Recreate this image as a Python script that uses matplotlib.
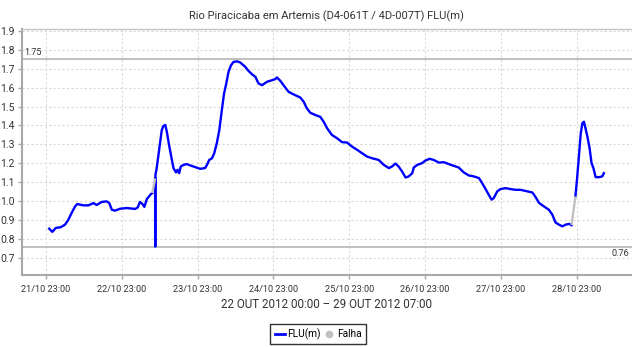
import numpy as np
import pandas as pd
import matplotlib
matplotlib.use('Agg')
import matplotlib.pyplot as plt
import matplotlib.dates as mdates
from matplotlib.lines import Line2D

# leituras FLU(m), horas a partir de 22/10/2012 00:00, em tres trechos separados por falhas
h1 = [0.1, 1.1, 2.2, 3.7, 5.1, 6.1, 7.2, 8.3, 9.0, 10.9, 12.5, 14.1, 15.1, 16.7, 18.3,
      19.1, 19.9, 20.9, 22.5, 24.6, 27.3, 28.1, 28.8, 29.6, 30.2, 31.0, 32.3, 32.7]
v1 = [0.855, 0.838, 0.859, 0.862, 0.876, 0.900, 0.938, 0.973, 0.985, 0.978, 0.978, 0.990,
      0.980, 0.996, 0.999, 0.990, 0.955, 0.950, 0.960, 0.964, 0.959, 0.967, 0.996, 0.985,
      0.970, 1.012, 1.038, 1.043]

h2 = [33.6, 33.65, 33.7, 34.1, 35.0, 35.7, 36.2, 36.8, 37.3, 38.1, 38.9, 39.4, 40.2, 40.7,
      41.2, 41.7, 42.6, 43.6, 44.7, 46.3, 47.8, 49.4, 50.0, 50.7, 51.6, 52.3, 53.1, 53.9,
      54.7, 55.4, 56.1, 56.8, 57.6, 58.4, 59.5, 60.5, 62.1, 63.1, 64.2, 65.3, 66.3, 67.4,
      69.0, 70.5, 71.6, 72.1, 73.2, 74.2, 75.8, 77.4, 79.5, 80.6, 81.6, 82.7, 84.3, 85.8,
      86.9, 88.0, 89.5, 91.1, 92.7, 94.3, 95.9, 97.5, 99.0, 100.6, 102.2, 104.3, 105.9,
      107.5, 108.5, 109.6, 110.6, 111.7, 112.8, 113.8, 114.9, 115.4, 116.5, 118.0, 119.1,
      120.4, 121.7, 123.3, 124.9, 126.5, 128.0, 129.6, 131.2, 132.8, 134.4, 136.0, 137.0,
      138.1, 139.1, 140.0, 140.7, 141.8, 142.8, 144.4, 146.0, 147.6, 149.2, 151.3, 152.9,
      153.9, 155.0, 155.5, 156.5, 158.1, 159.2, 160.2, 161.3, 162.4, 163.4, 164.5, 165.3]
v2 = [1.120, 0.760, 1.139, 1.175, 1.288, 1.376, 1.397, 1.403, 1.367, 1.288, 1.218, 1.175,
      1.152, 1.166, 1.148, 1.183, 1.192, 1.196, 1.189, 1.180, 1.171, 1.175, 1.192, 1.218,
      1.227, 1.254, 1.306, 1.376, 1.482, 1.569, 1.622, 1.683, 1.718, 1.736, 1.739, 1.733,
      1.710, 1.689, 1.671, 1.657, 1.622, 1.613, 1.631, 1.639, 1.645, 1.654, 1.636, 1.613,
      1.578, 1.564, 1.548, 1.525, 1.490, 1.467, 1.455, 1.446, 1.420, 1.385, 1.350, 1.333,
      1.312, 1.310, 1.288, 1.271, 1.254, 1.236, 1.227, 1.218, 1.192, 1.175, 1.183, 1.199,
      1.183, 1.157, 1.125, 1.131, 1.148, 1.178, 1.192, 1.201, 1.215, 1.224, 1.218, 1.204,
      1.206, 1.196, 1.187, 1.178, 1.152, 1.136, 1.131, 1.122, 1.096, 1.064, 1.034, 1.008,
      1.017, 1.052, 1.064, 1.069, 1.064, 1.060, 1.060, 1.052, 1.046, 1.022, 0.991, 0.985,
      0.973, 0.955, 0.929, 0.888, 0.876, 0.867, 0.876, 0.880, 0.873]

h3 = [166.5, 167.0, 167.6, 168.2, 168.7, 169.2, 169.7, 170.3, 171.0, 171.6, 172.2, 172.9,
      174.0, 175.0, 175.5]
v3 = [1.025, 1.113, 1.236, 1.359, 1.412, 1.420, 1.385, 1.341, 1.280, 1.201, 1.175, 1.127,
      1.127, 1.131, 1.148]

ref_max = 1.75
ref_min = 0.76
yticks = [0.7, 0.8, 0.9, 1.0, 1.1, 1.2, 1.3, 1.4, 1.5, 1.6, 1.7, 1.8, 1.9]

t0 = pd.Timestamp('2012-10-22 00:00')


def to_time(hours):
    return t0 + pd.to_timedelta(hours, unit='h')


segments = [(h1, v1), (h2, v2), (h3, v3)]

plt.rcParams['font.family'] = ['Roboto', 'DejaVu Sans']

fig = plt.figure(figsize=(6.32, 3.47), dpi=100)
ax = fig.add_axes([0.0343, 0.2075, 0.9657, 0.709])

blue = '#0000ff'
gray = '#c0c0c0'
txt = '#333333'

# trechos de falha ligando o fim de um trecho ao inicio do seguinte
for (ha, va), (hb, vb) in zip(segments[:-1], segments[1:]):
    ax.plot(to_time([ha[-1], hb[0]]), [va[-1], vb[0]], color=gray, lw=1.7,
            solid_capstyle='butt', zorder=5)
for h, v in segments:
    ax.plot(to_time(h), v, color=blue, lw=1.7, zorder=4)

ax.axhline(ref_max, color='#b4b4b4', lw=1.2, zorder=2)
ax.axhline(ref_min, color='#b4b4b4', lw=1.2, zorder=2)

ax.set_ylim(0.61, 1.91)
ax.set_xlim(to_time(-8.6), to_time(184.4))
ax.set_yticks(yticks)
ax.set_yticklabels(['%.1f' % y for y in yticks])

xt = [to_time(23 + 24 * d) - pd.Timedelta(days=1) for d in range(8)]
ax.set_xticks(xt)
ax.xaxis.set_major_formatter(mdates.DateFormatter('%d/%m %H:%M'))

ax.text(0.005, ref_max + 0.01, '%.2f' % ref_max, transform=ax.get_yaxis_transform(),
        fontsize=6.5, color=txt, va='bottom', ha='left')
ax.text(0.995, ref_min - 0.014, '%.2f' % ref_min, transform=ax.get_yaxis_transform(),
        fontsize=6.5, color=txt, va='top', ha='right')

ax.grid(True, color='#d8d8d8', lw=0.8, linestyle=(0, (2, 2)))
ax.set_axisbelow(True)
for side in ['left', 'bottom']:
    ax.spines[side].set_color('#a8a8a8')
    ax.spines[side].set_linewidth(1.5)
ax.spines['top'].set_color('#c4c4c4')
ax.spines['top'].set_linewidth(1)
ax.spines['right'].set_visible(False)
ax.tick_params(axis='both', colors='#a8a8a8', length=3, width=1, labelcolor=txt)
ax.tick_params(axis='y', labelsize=7.5, pad=2)
ax.tick_params(axis='x', labelsize=6.6, pad=4)

ax.set_title('Rio Piracicaba em Artemis (D4-061T / 4D-007T) FLU(m)', fontsize=8,
             color=txt, pad=7)
ax.set_xlabel('22 OUT 2012 00:00 \u2013 29 OUT 2012 07:00', fontsize=8.4, color=txt,
              labelpad=3)

handles = [Line2D([], [], color=blue, lw=2),
           Line2D([], [], color=gray, marker='o', linestyle='none', markersize=4.5)]
leg = fig.legend(handles, ['FLU(m)', 'Falha'], loc='center',
                 bbox_to_anchor=(318 / 632, 1 - 334 / 347), ncol=2, fontsize=7.3,
                 frameon=True, fancybox=False, edgecolor='black', handlelength=1.0,
                 handletextpad=0.25, columnspacing=0.3, borderpad=0.45, borderaxespad=0)
leg.get_frame().set_linewidth(1)

fig.savefig('out.png', dpi=100)
